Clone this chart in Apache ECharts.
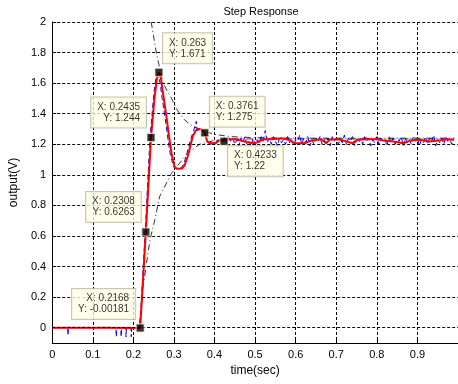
<!DOCTYPE html>
<html><head><meta charset="utf-8">
<script src="https://cdn.jsdelivr.net/npm/echarts@6/dist/echarts.min.js"></script>
<style>html,body{margin:0;padding:0;background:#fff}#c{width:458px;height:384px}</style>
</head><body><div id="c"></div>
<script>
// ---- data ----
const titleText = 'Step Response';
const xName = 'time(sec)';
const yName = 'output(V)';
const yTickLabels = ['0','0.2','0.4','0.6','0.8','1','1.2','1.4','1.6','1.8','2'];

// red (filtered) response [t, y]
const redTransient = [[0,0],[0.14,0],[0.2168,-0.002],[0.2308,0.6263],[0.2435,1.244],[0.252,1.5],[0.258,1.63],[0.263,1.671],
  [0.268,1.63],[0.273,1.534],[0.2815,1.381],[0.288,1.25],[0.294,1.142],[0.302,1.05],[0.308,1.04],[0.32,1.042],[0.326,1.06],
  [0.334,1.12],[0.346,1.25],[0.354,1.29],[0.363,1.3],[0.37,1.295],[0.3761,1.275],[0.382,1.218],[0.391,1.207],[0.403,1.207],
  [0.411,1.224],[0.4233,1.22],[0.435,1.233],[0.45,1.233],[0.47,1.222],[0.484,1.211],[0.5,1.207]];
const redSteady = [[0.5085,1.218],[0.521,1.233],[0.541,1.233],[0.565,1.240],[0.582,1.229],[0.598,1.207],[0.622,1.207],
  [0.638,1.224],[0.663,1.233],[0.675,1.207],[0.683,1.229],[0.703,1.233],[0.719,1.224],[0.740,1.207],[0.752,1.229],
  [0.776,1.233],[0.800,1.233],[0.817,1.224],[0.841,1.218],[0.865,1.207],[0.882,1.224],[0.906,1.229],[0.930,1.218],
  [0.951,1.224],[0.971,1.233],[0.990,1.229]];

// blue (raw) response [t, y]
const blueTransient = [[0,0],[0.038,0],[0.039,-0.05],[0.04,0],[0.157,0],[0.158,-0.06],[0.159,0],[0.169,0],[0.170,-0.06],
  [0.171,0],[0.181,0],[0.182,-0.06],[0.183,0],[0.194,0],[0.195,-0.06],[0.196,0],[0.214,0],[0.218,0.1],[0.229,0.62],
  [0.241,1.24],[0.25,1.52],[0.256,1.64],[0.261,1.66],[0.266,1.6],[0.271,1.5],[0.279,1.36],[0.286,1.22],[0.292,1.12],
  [0.3,1.05],[0.306,1.04],[0.318,1.045],[0.324,1.07],[0.332,1.14],[0.342,1.24],[0.35,1.3],[0.355,1.35],[0.357,1.29],
  [0.364,1.3],[0.372,1.29],[0.378,1.25],[0.383,1.21],[0.39,1.2],[0.4,1.21],[0.41,1.23],[0.418,1.22]];
const blueNoiseStart = 0.425, blueNoiseStep = 0.005;
const blueNoise = [1.24,1.21,1.25,1.22,1.24,1.20,1.23,1.19,1.24,1.21,
  1.25,1.20,1.22,1.19,1.24,1.20,1.23,1.21,1.25,1.22,
  1.29,1.21,1.24,1.20,1.25,1.22,1.19,1.24,1.21,1.23,
  1.20,1.25,1.21,1.24,1.19,1.23,1.22,1.26,1.20,1.24,
  1.21,1.25,1.19,1.23,1.20,1.24,1.22,1.25,1.20,1.23,
  1.21,1.24,1.19,1.25,1.22,1.24,1.20,1.23,1.21,1.26,
  1.20,1.24,1.22,1.25,1.19,1.23,1.21,1.24,1.20,1.25,
  1.22,1.24,1.19,1.23,1.21,1.25,1.20,1.24,1.22,1.23,
  1.19,1.25,1.21,1.24,1.20,1.23,1.22,1.25,1.19,1.24,
  1.21,1.23,1.20,1.25,1.22,1.24,1.19,1.23,1.21,1.25,
  1.20,1.24,1.22,1.26,1.19,1.23,1.21,1.24,1.20,1.25,
  1.22,1.23,1.20,1.24];

// envelopes (dash-dot)
const upperEnv = [[0.244,2.0],[0.256,1.81],[0.263,1.72],[0.273,1.60],[0.294,1.50],[0.309,1.42],[0.326,1.36],[0.345,1.32],
  [0.37,1.29],[0.4,1.265],[0.44,1.25],[0.5,1.243],[0.6,1.24],[0.99,1.24]];
const lowerEnv = [[0.2168,0],[0.224,0.27],[0.241,0.575],[0.253,0.706],[0.265,0.86],[0.294,1.01],[0.333,1.14],[0.363,1.2],
  [0.4,1.225],[0.45,1.235],[0.99,1.235]];

// data tips
const tipX = [0.2168,0.2308,0.2435,0.263,0.3761,0.4233];
const tipY = [-0.00181,0.6263,1.244,1.671,1.275,1.22];

// ---- styling / layout ----
const FONT = 'Liberation Sans, Arial, sans-serif';
const tipLayout = [
  {align:'right', offset:[-5,-39]},
  {align:'right', offset:[-5,-40]},
  {align:'right', offset:[-5,-40]},
  {align:'left',  offset:[4,-39]},
  {align:'left',  offset:[5,-36]},
  {align:'left',  offset:[4,5]}
];

const blueData = blueTransient.concat(blueNoise.map((v,i)=>[blueNoiseStart + i*blueNoiseStep, v]));
const redData = redTransient.concat(redSteady);
const yTickVals = yTickLabels.map(parseFloat);

const chart = echarts.init(document.getElementById('c'), null, {renderer:'canvas'});
chart.setOption({
  animation: false,
  backgroundColor: '#fff',
  textStyle: {fontFamily: FONT},
  title: {text: titleText, left: 256, top: 1, textAlign: 'center',
    textStyle: {fontFamily: FONT, fontSize: 11, fontWeight: 'normal', color: '#000'}},
  grid: {left: 51, top: 22, right: -3, bottom: 41, containLabel: false},
  xAxis: {type: 'value', min: 0, max: 1, interval: 0.1,
    name: xName, nameLocation: 'middle', nameGap: 22,
    nameTextStyle: {fontFamily: FONT, fontSize: 12, color: '#000'},
    axisLine: {onZero: false, lineStyle: {color: '#000', width: 1}},
    axisTick: {inside: true, length: 4, lineStyle: {color: '#000'}},
    axisLabel: {color: '#000', fontSize: 11, fontFamily: FONT, margin: 6, showMaxLabel: false},
    splitLine: {show: true, lineStyle: {color: '#000', width: 1, type: [3,2]}}},
  yAxis: {type: 'value', min: -0.1, max: 2,
    name: yName, nameLocation: 'middle', nameGap: 27, nameRotate: 90,
    nameTextStyle: {fontFamily: FONT, fontSize: 12, color: '#000'},
    axisLine: {show: true, onZero: false, lineStyle: {color: '#000', width: 1}},
    axisTick: {show: true, inside: true, length: 4, customValues: yTickVals, lineStyle: {color: '#000'}},
    axisLabel: {color: '#000', fontSize: 11, fontFamily: FONT, margin: 6, customValues: yTickVals,
      formatter: v => { const i = yTickVals.indexOf(+v.toFixed(6)); return i >= 0 ? yTickLabels[i] : ''; }},
    splitLine: {show: false}},
  series: [
    {type: 'line', name: 'ygrid', data: [], z: 1, silent: true,
      markLine: {silent: true, symbol: 'none', label: {show: false}, animation: false,
        lineStyle: {color: '#000', width: 1, type: [3,2]},
        data: yTickVals.map(v => ({yAxis: v}))}},
    {type: 'line', name: 'upper', data: upperEnv, showSymbol: false, symbol: 'none', z: 2,
      lineStyle: {color: '#333', width: 1, type: [6,3,1,3]}},
    {type: 'line', name: 'lower', data: lowerEnv, showSymbol: false, symbol: 'none', z: 2,
      lineStyle: {color: '#333', width: 1, type: [6,3,1,3]}},
    {type: 'line', name: 'raw', data: blueData, showSymbol: false, symbol: 'none', z: 3,
      lineStyle: {color: '#0000ff', width: 1, type: [5,3]}},
    {type: 'line', name: 'filtered', data: redData, showSymbol: false, symbol: 'none', z: 4,
      lineStyle: {color: '#ff0000', width: 2}},
    {type: 'scatter', name: 'tips', z: 6, symbol: 'rect', symbolSize: 8,
      itemStyle: {color: '#000', borderColor: '#f0f0d8', borderWidth: 1},
      label: {show: true, position: 'inside', verticalAlign: 'top', fontFamily: FONT, fontSize: 10, lineHeight: 11,
        color: '#000', backgroundColor: '#ffffe6', borderColor: '#b8b8a8', borderWidth: 1, padding: [4,6,4,6]},
      data: tipX.map((x,i) => ({value: [x, tipY[i]],
        label: {align: tipLayout[i].align, offset: tipLayout[i].offset,
          formatter: 'X: ' + x + '\nY: ' + tipY[i]}}))}
  ]
});
</script></body></html>
